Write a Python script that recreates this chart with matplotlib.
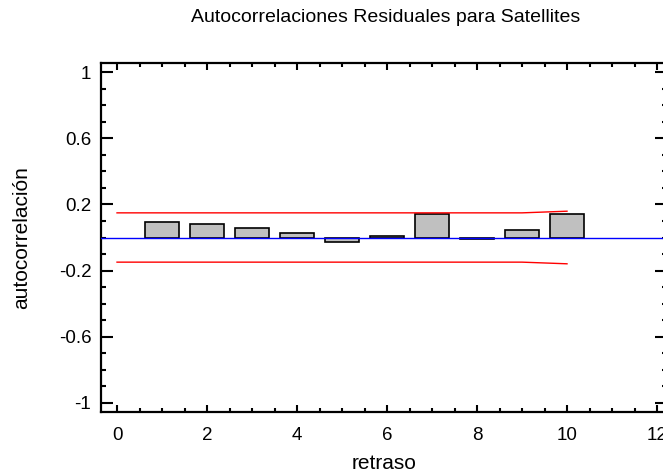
import matplotlib
matplotlib.use("Agg")
import matplotlib.pyplot as plt
from matplotlib.ticker import MultipleLocator

plt.rcParams["font.family"] = ["Liberation Sans", "DejaVu Sans"]

# residual autocorrelations by lag
lags = [1, 2, 3, 4, 5, 6, 7, 8, 9, 10]
acf = [0.093, 0.083, 0.055, 0.028, -0.030, 0.010, 0.141, -0.012, 0.046, 0.143]

# 95% probability limits
limit_lags = [0, 1, 2, 3, 4, 5, 6, 7, 8, 9, 10]
upper = [0.149, 0.149, 0.149, 0.149, 0.149, 0.149, 0.149, 0.149, 0.149, 0.149, 0.159]
lower = [-0.149, -0.149, -0.149, -0.149, -0.149, -0.149, -0.149, -0.149, -0.149, -0.149, -0.159]

fig = plt.figure(figsize=(6.63, 4.75), dpi=100)
ax = fig.add_axes([101 / 663, 1 - 412 / 475, 566 / 663, 349 / 475])

ax.bar(lags, acf, width=0.76, color="#c0c0c0", edgecolor="black", linewidth=1.2, zorder=2)
ax.axhline(0, color="#0000ff", lw=1.0, zorder=3)
ax.plot(limit_lags, upper, color="#ff0000", lw=1.0, zorder=3)
ax.plot(limit_lags, lower, color="#ff0000", lw=1.0, zorder=3)

ax.set_xlim(-0.356, 12.222)
ax.set_ylim(-1.055, 1.055)
ax.xaxis.set_major_locator(MultipleLocator(2))
ax.xaxis.set_minor_locator(MultipleLocator(0.5))
ax.set_yticks([-1, -0.6, -0.2, 0.2, 0.6, 1])
ax.set_yticklabels(["-1", "-0.6", "-0.2", "0.2", "0.6", "1"])
ax.yaxis.set_minor_locator(MultipleLocator(0.1))

ax.tick_params(which="both", direction="in", top=True, right=True, labelsize=13.5, width=1.5)
ax.tick_params(axis="x", which="major", length=5, pad=11)
ax.tick_params(axis="x", which="minor", length=2.9)
ax.tick_params(axis="y", which="major", length=8.6, pad=7)
ax.tick_params(axis="y", which="minor", length=3.6)
for s in ax.spines.values():
    s.set_linewidth(1.6)

ax.set_xlabel("retraso", fontsize=15, labelpad=7)
ax.set_ylabel("autocorrelación", fontsize=15)
ax.yaxis.set_label_coords(-0.124, 0.5)
fig.suptitle("Autocorrelaciones Residuales para Satellites", fontsize=14,
             x=386 / 663, y=1 - 9 / 475, va="top")

fig.savefig("out.png", dpi=100)
